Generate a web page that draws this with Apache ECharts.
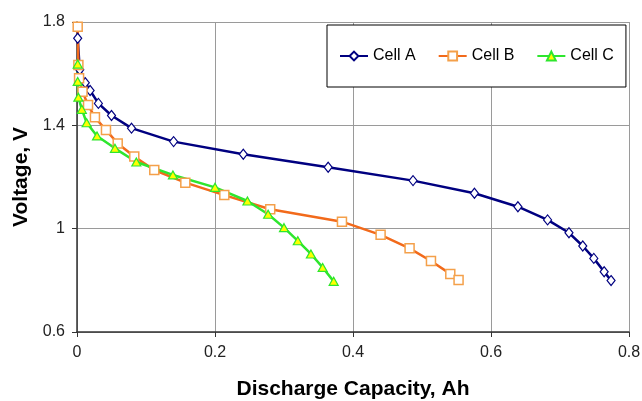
<!DOCTYPE html>
<html>
<head>
<meta charset="utf-8">
<script src="https://cdn.jsdelivr.net/npm/echarts@6/dist/echarts.min.js"></script>
<style>
html,body{margin:0;padding:0;background:#fff;}
#chart{width:642px;height:401px;}
</style>
</head>
<body>
<div id="chart"></div>
<script>
var seriesNames = ['Cell A', 'Cell B', 'Cell C'];
var cellA = [[0.001,1.737],[0.004,1.615],[0.012,1.565],[0.019,1.535],[0.031,1.485],[0.050,1.438],[0.079,1.389],[0.140,1.337],[0.241,1.288],[0.364,1.238],[0.487,1.186],[0.576,1.137],[0.639,1.085],[0.682,1.034],[0.713,0.984],[0.733,0.933],[0.749,0.885],[0.764,0.833],[0.774,0.799]];
var cellB = [[0.001,1.782],[0.002,1.634],[0.003,1.582],[0.008,1.530],[0.016,1.479],[0.026,1.431],[0.042,1.382],[0.059,1.330],[0.083,1.279],[0.112,1.227],[0.157,1.178],[0.2135,1.130],[0.280,1.075],[0.384,1.027],[0.440,0.976],[0.482,0.924],[0.513,0.875],[0.541,0.825],[0.553,0.801]];
var cellC = [[0.001,1.637],[0.001,1.570],[0.002,1.509],[0.007,1.462],[0.014,1.410],[0.029,1.359],[0.055,1.311],[0.086,1.258],[0.139,1.208],[0.200,1.160],[0.247,1.107],[0.277,1.056],[0.300,1.004],[0.320,0.953],[0.339,0.902],[0.356,0.850],[0.372,0.796]];
var xTicks = {min: 0, max: 0.8, interval: 0.2};
var yTicks = {min: 0.6, max: 1.8, interval: 0.4};

var font = '"Liberation Sans", Arial, sans-serif';
var chart = echarts.init(document.getElementById('chart'));
chart.setOption({
  animation: false,
  backgroundColor: '#fff',
  grid: {left: 77, right: 13, top: 22, bottom: 69, containLabel: false, outerBoundsMode: 'none'},
  legend: {
    left: 327, top: 25,
    padding: [23, 12, 23, 12],
    backgroundColor: '#fff',
    borderColor: '#000', borderWidth: 1,
    itemWidth: 28, itemHeight: 11, itemGap: 22,
    textStyle: {fontFamily: font, fontSize: 16, color: '#000'},
    data: seriesNames
  },
  xAxis: {
    type: 'value', min: xTicks.min, max: xTicks.max, interval: xTicks.interval,
    name: 'Discharge Capacity, Ah', nameLocation: 'middle', nameGap: 47,
    nameTextStyle: {fontFamily: font, fontSize: 21, fontWeight: 'bold', color: '#000'},
    axisLine: {show: true, lineStyle: {color: '#333', width: 1.5}},
    axisTick: {show: true, inside: false, length: 5, lineStyle: {color: '#333'}},
    axisLabel: {fontFamily: font, fontSize: 16, color: '#222', margin: 13},
    splitLine: {show: true, lineStyle: {color: '#9a9a9a', width: 1}}
  },
  yAxis: {
    type: 'value', min: yTicks.min, max: yTicks.max, interval: yTicks.interval,
    name: 'Voltage, V', nameLocation: 'middle', nameGap: 43,
    nameTextStyle: {fontFamily: font, fontSize: 21, fontWeight: 'bold', color: '#000'},
    axisLine: {show: true, lineStyle: {color: '#333', width: 1.5}},
    axisTick: {show: true, inside: false, length: 5, lineStyle: {color: '#333'}},
    axisLabel: {fontFamily: font, fontSize: 16, color: '#222', margin: 12},
    splitLine: {show: true, lineStyle: {color: '#9a9a9a', width: 1}}
  },
  series: [
    {
      name: seriesNames[0], type: 'line', data: cellA,
      symbol: 'diamond', symbolSize: [8, 10],
      lineStyle: {color: '#000080', width: 2.5},
      itemStyle: {color: '#fff', borderColor: '#000080', borderWidth: 1.2},
      color: '#000080'
    },
    {
      name: seriesNames[1], type: 'line', data: cellB,
      symbol: 'rect', symbolSize: 9,
      lineStyle: {color: '#f26a1b', width: 2.5},
      itemStyle: {color: '#fff', borderColor: '#f4a04a', borderWidth: 1.5},
      color: '#f26a1b'
    },
    {
      name: seriesNames[2], type: 'line', data: cellC,
      symbol: 'triangle', symbolSize: [9, 8],
      lineStyle: {color: '#2ee62e', width: 2.5},
      itemStyle: {color: '#ffff00', borderColor: '#2ee62e', borderWidth: 1.2},
      color: '#2ee62e'
    }
  ]
});
</script>
</body>
</html>
